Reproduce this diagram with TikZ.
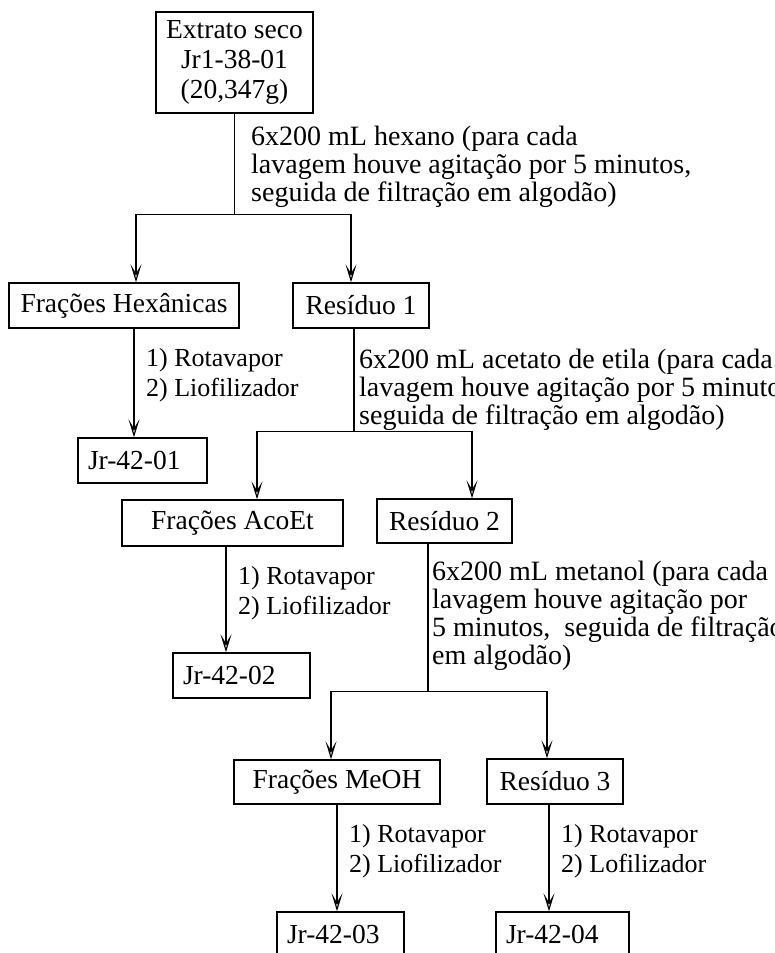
\documentclass[tikz,border=0pt]{standalone}
\usepackage{fontspec}
\setmainfont{Liberation Serif}
\usetikzlibrary{arrows.meta,positioning,calc}

\begin{document}
\begin{tikzpicture}[x=1pt, y=-1pt,
  box/.style={draw, line width=1.4pt, font=\fontsize{27.5}{30}\selectfont, inner sep=0pt, minimum height=45pt, align=center},
  jrbox/.style={box, align=left, inner xsep=10pt},
  wash/.style={font=\fontsize{28}{28}\selectfont, align=left, inner sep=0pt, anchor=north west},
  stepnote/.style={font=\fontsize{26}{30}\selectfont, align=left, inner sep=0pt, anchor=north west},
  link/.style={line width=1.2pt},
  flow/.style={link, -{Stealth[open, length=18pt, width=11pt, inset=9pt]}}]
\useasboundingbox (0,0) rectangle (775,953);
\clip (0,0) rectangle (775,953);

% caixas
\node[box, minimum width=157pt, minimum height=101pt] (extrato) at (234.5,62.5) {Extrato seco\\Jr1-38-01\\(20,347g)};
\node[box, minimum width=230pt] (hex) at (124,305.5) {Frações Hexânicas};
\node[box, minimum width=136pt] (res1) at (361,305.5) {Resíduo 1};
\node[jrbox, text width=109pt] (jr01) at (142.5,460.5) {Jr-42-01};
\node[box, minimum width=221pt, minimum height=46pt] (acoet) at (232.5,523) {Frações AcoEt};
\node[box, minimum width=135pt, minimum height=44pt] (res2) at (444.5,521) {Resíduo 2};
\node[jrbox, text width=117pt] (jr02) at (241.5,675.5) {Jr-42-02};
\node[box, minimum width=206pt, minimum height=44pt] (meoh) at (337,782) {Frações MeOH};
\node[box, minimum width=136pt] (res3) at (555,781.5) {Resíduo 3};
\node[jrbox, text width=107pt] (jr03) at (340.5,934.5) {Jr-42-03};
\node[jrbox, text width=113pt] (jr04) at (562.5,934.5) {Jr-42-04};

% lavagens
\coordinate (j1) at ($(extrato.south)+(0,101)$);
\draw[link] (extrato.south) -- (j1);
\draw[flow] (j1) -| ($(hex.north)+(12,0)$);
\draw[flow] (j1) -| ($(res1.north)+(-10,0)$);
\node[wash] (lavhex) at (251,126) {6x200 mL hexano (para cada\\lavagem houve agitação por 5 minutos,\\seguida de filtração em algodão)};

\coordinate (r1) at ($(res1.south)+(-7,0)$);
\coordinate (j2) at ($(r1)+(0,103)$);
\draw[link] (r1) -- (j2);
\draw[flow] (j2) -| ($(acoet.north)+(24.5,0)$);
\draw[flow] (j2) -| ($(res2.north)+(27.5,0)$);
\node[wash] (lavacet) at (359,349) {6x200 mL acetato de etila (para cada\\lavagem houve agitação por 5 minutos,\\seguida de filtração em algodão)};

\coordinate (r2) at ($(res2.south)+(-16.5,0)$);
\coordinate (j3) at ($(r2)+(0,148)$);
\draw[link] (r2) -- (j3);
\draw[flow] (j3) -| ($(meoh.north)+(-6,0)$);
\draw[flow] (j3) -| ($(res3.north)+(-8,0)$);
\node[wash] (lavmet) at (432,561) {6x200 mL metanol (para cada\\lavagem houve agitação por\\5 minutos,~ seguida de filtração\\em algodão)};

% secagem
\foreach \a/\b/\dx/\txt in {hex/jr01/10/Liofilizador, acoet/jr02/-6.5/Liofilizador, meoh/jr03/0/Liofilizador, res3/jr04/-6/Lofilizador} {
  \coordinate (s) at ($(\a.south)+(\dx,0)$);
  \draw[flow] (s) -- (s |- \b.north);
  \node[stepnote] at ($(s)+(12,20)$) {1) Rotavapor\\2) \txt};
}
\end{tikzpicture}
\end{document}
